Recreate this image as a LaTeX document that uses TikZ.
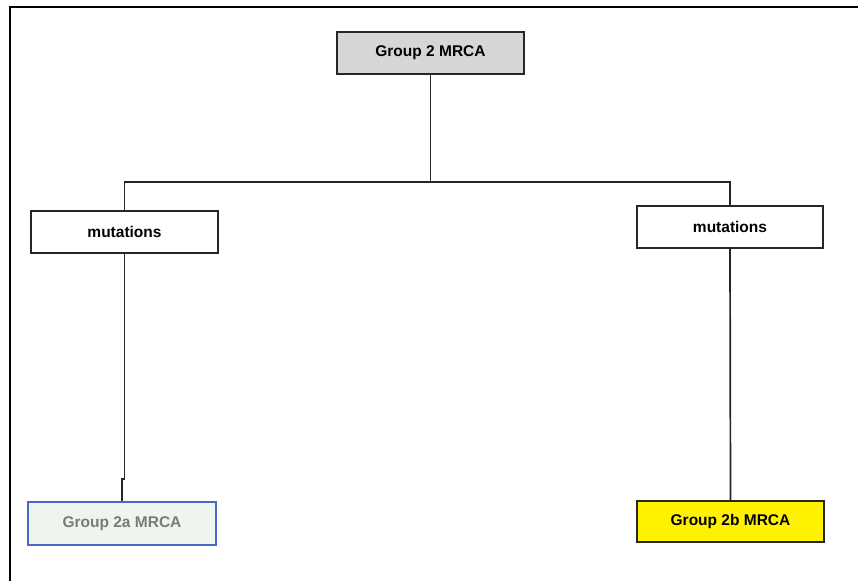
\documentclass[tikz,border=0pt]{standalone}
\usepackage{fontspec}
\setmainfont{Liberation Sans}
\definecolor{topgray}{HTML}{D6D6D6}
\definecolor{mint}{HTML}{EEF5EF}
\definecolor{bordblue}{HTML}{4A68C8}
\definecolor{txtgray}{HTML}{7A7A7A}
\begin{document}
\begin{tikzpicture}[x=1pt,y=-1pt,
  box/.style={draw=black!85,line width=1.6pt,rectangle,inner sep=0pt,minimum width=187pt,minimum height=42pt,font=\fontsize{15.5}{17}\selectfont\bfseries},
  conn/.style={draw=black!85,line width=1.7pt},
  frame/.style={draw=black,line width=2.5pt}]
\useasboundingbox (0,0) rectangle (858,581);
\draw[frame] (10,581) -- (10,7) -- (858,7);
\node[box,fill=topgray] (top) at (430.5,53) {Group 2 MRCA};
\node[box,fill=white] (lm) at (124.5,232) {mutations};
\node[box,fill=white,minimum width=186pt] (rm) at (730,227) {mutations};
\node[box,fill=mint,draw=bordblue,line width=2pt,minimum width=188pt,minimum height=43pt,text=txtgray] (a) at (122,523.5) {Group 2a MRCA};
\node[box,fill=yellow,minimum height=41pt] (b) at (730.5,521.5) {Group 2b MRCA};
\coordinate (j) at (430.5,182);
\coordinate (k) at (124.5,479);
\draw[conn] (top.south) -- (j);
\draw[conn] (lm.north) |- (j) -| (rm.north);
\draw[conn] (lm.south) -- (k) -- (k -| a.north) -- (a.north);
\draw[conn] (rm.south) -- (b.north);
\end{tikzpicture}
\end{document}
